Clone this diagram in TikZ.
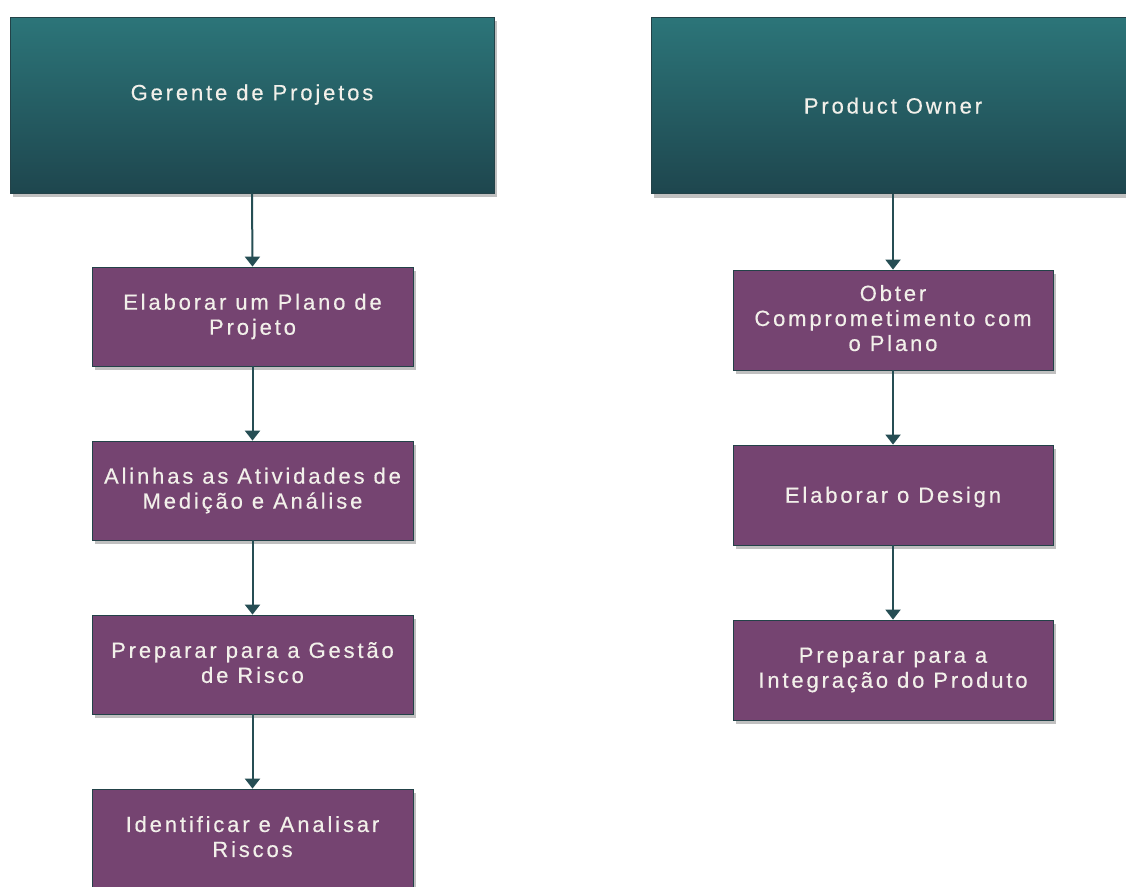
\documentclass[tikz,border=0pt]{standalone}
\usepackage{fontspec}
\setmainfont[LetterSpace=13,FakeBold=0.4]{Liberation Sans}
\usetikzlibrary{arrows.meta,shadows}

\definecolor{tealtop}{RGB}{44,117,121}
\definecolor{tealbot}{RGB}{30,70,78}
\definecolor{plum}{RGB}{117,68,113}
\definecolor{edgec}{RGB}{35,66,72}
\definecolor{arrowc}{RGB}{38,78,84}
\definecolor{txtc}{RGB}{242,240,234}

% strut giving every label the same first-line height and last-line depth
\newcommand\labelstrut{\rule[-4pt]{0pt}{24pt}}

\begin{document}
\begin{tikzpicture}[x=1pt,y=-1pt,
  boxshadow/.style={drop shadow={shadow xshift=3pt,shadow yshift=-4pt,opacity=0.35,fill=black!70}},
  boxtext/.style={text=txtc, font=\fontsize{22}{25}\selectfont, align=center,
    execute at begin node=\labelstrut, execute at end node=\labelstrut},
  lead/.style={draw=edgec, line width=0.8pt, top color=tealtop, bottom color=tealbot,
    minimum width=484pt, minimum height=176pt, inner sep=0pt, boxshadow, boxtext},
  leadtxt/.style={boxtext, inner sep=0pt},
  task/.style={draw=edgec, line width=0.8pt, fill=plum, minimum width=321pt, minimum height=99pt,
    inner sep=0pt, boxshadow, boxtext},
  flow/.style={draw=arrowc, line width=2pt, -{Triangle[width=15pt,length=10pt]}}]

\clip (0,0) rectangle (1126,886);
\fill[white] (0,0) rectangle (1126,886);

% Left column: project manager
\node[lead] (gp) at (252,105) {};
\node[leadtxt] (gpt) at (252,92.5) {Gerente de Projetos};
\node[task] (a1) at (252.5,316.5) {Elaborar um Plano de\\Projeto};
\node[task] (a2) at (252.5,490.5) {Alinhas as Atividades de\\Medição e Análise};
\node[task] (a3) at (252.5,664.5) {Preparar para a Gestão\\de Risco};
\node[task] (a4) at (252.5,838.5) {Identificar e Analisar\\Riscos};

% Right column: product owner
\node[lead] (po) at (893,105.5) {Product Owner};
\node[task, minimum width=320pt, minimum height=100pt] (b1) at (893,320) {Obter\\Comprometimento com\\o Plano};
\node[task, minimum width=320pt, minimum height=100pt] (b2) at (893,495) {Elaborar o Design};
\node[task, minimum width=320pt, minimum height=100pt] (b3) at (893,670) {Preparar para a\\Integração do Produto};

% Connectors
\draw[flow] (gp.south) -- (a1.north);
\draw[flow] (a1) -- (a2);
\draw[flow] (a2) -- (a3);
\draw[flow] (a3) -- (a4);
\draw[flow] (po.south) -- (b1.north);
\draw[flow] (b1) -- (b2);
\draw[flow] (b2) -- (b3);
\end{tikzpicture}
\end{document}
